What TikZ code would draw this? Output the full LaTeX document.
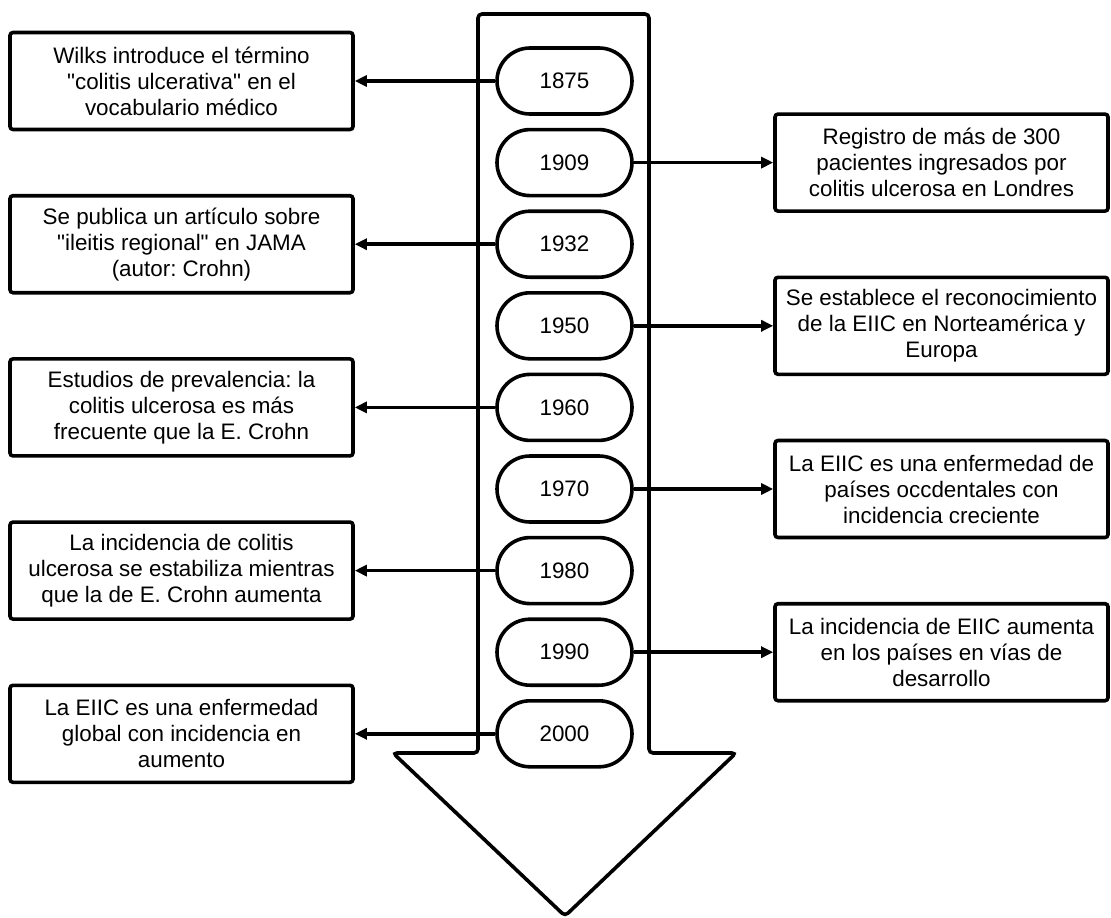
\documentclass[tikz,border=0pt]{standalone}
\usepackage{fontspec}
\setmainfont{Liberation Sans}
\usetikzlibrary{arrows.meta,shapes.misc}
\frenchspacing

\begin{document}
\begin{tikzpicture}[x=1pt,y=-1pt,line width=3.6pt,
  txt/.style={font=\fontsize{22.4}{26}\selectfont},
  leftbox/.style={txt,draw,fill=white,rounded corners=3pt,minimum width=343pt,minimum height=97pt,align=center,inner sep=0pt},
  rightbox/.style={leftbox,minimum width=333pt},
  year/.style={txt,draw,fill=white,rounded rectangle,minimum width=135pt,minimum height=66pt,inner sep=0pt},
  link/.style={-{Triangle[length=12pt,width=11pt]}}]

\useasboundingbox (0,0) rectangle (1111,918);

% timeline arrow
\draw[fill=white,rounded corners=4pt] (478,14) -- (649,14) -- (649,753) -- (736,753)
  -- (565,916) -- (393,753) -- (478,753) -- cycle;

% years along the timeline
\node[year] (y1875) at (564.5,81) {1875};
\node[year] (y1909) at (564.5,162.6) {1909};
\node[year] (y1932) at (564.5,244.2) {1932};
\node[year] (y1950) at (564.5,325.8) {1950};
\node[year] (y1960) at (564.5,407.4) {1960};
\node[year] (y1970) at (564.5,489) {1970};
\node[year] (y1980) at (564.5,570.6) {1980};
\node[year] (y1990) at (564.5,652.2) {1990};
\node[year] (y2000) at (564.5,733.8) {2000};

% events on the left
\node[leftbox] (e1875) at (181.5,81) {Wilks introduce el término\\\textquotedbl colitis ulcerativa\textquotedbl{} en el\\vocabulario médico};
\node[leftbox] (e1932) at (181.5,244.2) {Se publica un artículo sobre\\\textquotedbl ileitis regional\textquotedbl{} en JAMA\\(autor: Crohn)};
\node[leftbox] (e1960) at (181.5,407.4) {Estudios de prevalencia: la\\colitis ulcerosa es más\\frecuente que la E. Crohn};
\node[leftbox] (e1980) at (181.5,570.6) {La incidencia de colitis\\ulcerosa se estabiliza mientras\\que la de E. Crohn aumenta};
\node[leftbox] (e2000) at (181.5,733.8) {La EIIC es una enfermedad\\global con incidencia en\\aumento};

% events on the right
\node[rightbox] (e1909) at (941.5,162.6) {Registro de más de 300\\pacientes ingresados por\\colitis ulcerosa en Londres};
\node[rightbox] (e1950) at (941.5,325.8) {Se establece el reconocimiento\\de la EIIC en Norteamérica y\\Europa};
\node[rightbox] (e1970) at (941.5,489) {La EIIC es una enfermedad de\\países occdentales con\\incidencia creciente};
\node[rightbox] (e1990) at (941.5,652.2) {La incidencia de EIIC aumenta\\en los países en vías de\\desarrollo};

% connectors
\draw[link] (y1875.west) -- (e1875.east);
\draw[link] (y1932.west) -- (e1932.east);
\draw[link] (y1960.west) -- (e1960.east);
\draw[link] (y1980.west) -- (e1980.east);
\draw[link] (y2000.west) -- (e2000.east);
\draw[link] (y1909.east) -- (e1909.west);
\draw[link] (y1950.east) -- (e1950.west);
\draw[link] (y1970.east) -- (e1970.west);
\draw[link] (y1990.east) -- (e1990.west);
\end{tikzpicture}
\end{document}
